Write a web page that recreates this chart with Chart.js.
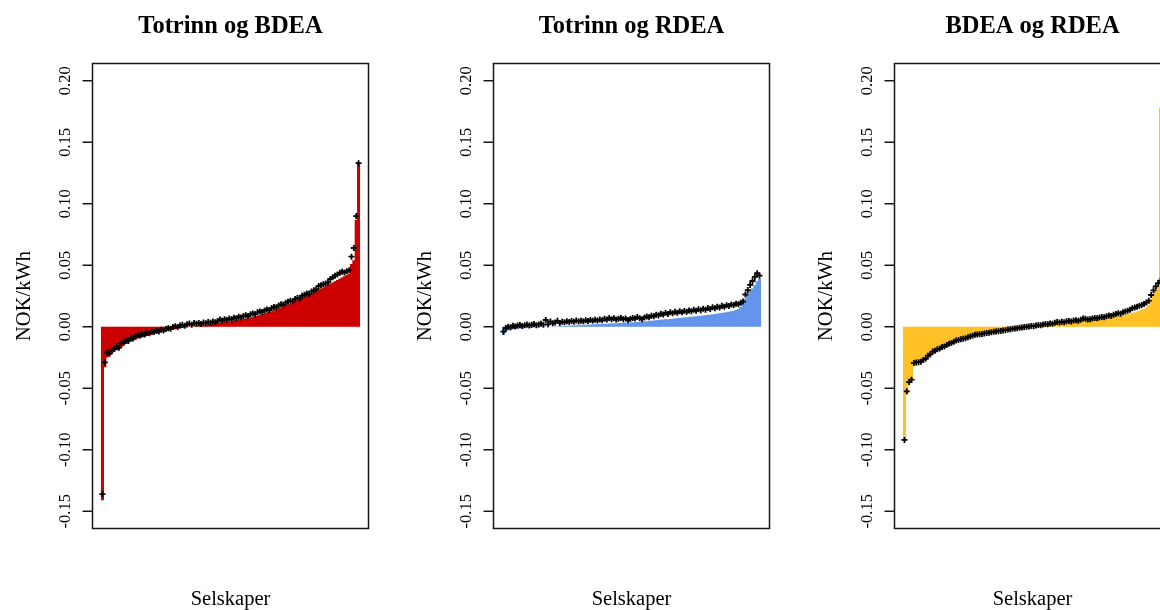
<!DOCTYPE html>
<html>
<head>
<meta charset="utf-8">
<script src="https://cdn.jsdelivr.net/npm/chart.js@4/dist/chart.umd.min.js"></script>
<style>
  html, body { margin: 0; padding: 0; background: #fff; overflow: hidden; width: 1160px; height: 610px; }
  canvas { position: absolute; top: 0; }
</style>
</head>
<body>
<canvas id="p1" width="400" height="610" style="left:0px"></canvas>
<canvas id="p2" width="400" height="610" style="left:401px"></canvas>
<canvas id="p3" width="400" height="610" style="left:802px"></canvas>
<script>
// Panel titles and axis texts
const panelTitles = ['Totrinn og BDEA', 'Totrinn og RDEA', 'BDEA og RDEA'];
const yAxisTitle = 'NOK/kWh';
const xAxisTitle = 'Selskaper';
const yTickValues = [-0.15, -0.10, -0.05, 0.00, 0.05, 0.10, 0.15, 0.20];
const yTickLabels = ['-0.15', '-0.10', '-0.05', '0.00', '0.05', '0.10', '0.15', '0.20'];
const panelColors = ['#CD0000', '#6495ED', '#FFC125'];

// Totrinn og BDEA: sorted differences per company (bars) and observed points
const totBdeaBars = [
  -0.141, -0.033, -0.025, -0.023, -0.0215, -0.020, -0.019, -0.018, -0.0165, -0.015,
  -0.014, -0.013, -0.012, -0.011, -0.0105, -0.0095, -0.009, -0.0085, -0.008, -0.0075,
  -0.007, -0.0063, -0.0057, -0.0051, -0.0046, -0.0042, -0.0038, -0.0034, -0.003, -0.0026,
  -0.0022, -0.0019, -0.0016, -0.0013, -0.001, -0.0007, -0.0004, -0.0001, 0.0002, 0.0005,
  0.0008, 0.001, 0.0012, 0.0014, 0.0016, 0.0018, 0.0021, 0.0024, 0.0027, 0.003,
  0.0033, 0.0036, 0.0039, 0.0041, 0.0043, 0.0046, 0.0049, 0.0052, 0.0056, 0.006,
  0.0064, 0.0068, 0.0072, 0.0076, 0.008, 0.0085, 0.009, 0.0095, 0.0101, 0.0107,
  0.0113, 0.012, 0.0127, 0.0134, 0.0141, 0.0148, 0.0156, 0.0164, 0.0172, 0.018,
  0.0188, 0.0197, 0.0206, 0.0215, 0.0224, 0.0233, 0.0242, 0.0251, 0.026, 0.027,
  0.028, 0.029, 0.030, 0.031, 0.032, 0.033, 0.034, 0.035, 0.036, 0.037,
  0.038, 0.039, 0.040, 0.041, 0.042, 0.043, 0.051, 0.054, 0.087, 0.132
];
const totBdeaPoints = [
  -0.136, -0.029, -0.021, -0.022, -0.019, -0.018, -0.016, -0.017, -0.0135, -0.013,
  -0.011, -0.0115, -0.009, -0.0095, -0.008, -0.0068, -0.0072, -0.006, -0.0062, -0.0048,
  -0.0052, -0.004, -0.0043, -0.0035, -0.0038, -0.0025, -0.003, -0.0018, -0.0012, -0.0016,
  -0.0002, 0.0004, -0.0003, 0.001, 0.0016, 0.0008, 0.002, 0.0026, 0.0017, 0.003,
  0.0025, 0.0031, 0.0022, 0.0034, 0.0029, 0.0038, 0.0033, 0.0042, 0.0036, 0.0046,
  0.0058, 0.005, 0.0062, 0.0055, 0.0068, 0.0061, 0.0074, 0.0069, 0.0082, 0.0076,
  0.0088, 0.0094, 0.0087, 0.0101, 0.0108, 0.0102, 0.0117, 0.0124, 0.0119, 0.0133,
  0.0141, 0.0136, 0.0152, 0.0161, 0.0157, 0.0173, 0.0182, 0.0178, 0.0196, 0.0204,
  0.0212, 0.0207, 0.0226, 0.0235, 0.0231, 0.0252, 0.026, 0.0271, 0.0266, 0.0287,
  0.0296, 0.0304, 0.0331, 0.0338, 0.0345, 0.0352, 0.0361, 0.0388, 0.0402, 0.0415,
  0.0424, 0.0438, 0.0447, 0.0441, 0.0452, 0.046, 0.057, 0.064, 0.090, 0.133
];

// Totrinn og RDEA
const totRdeaBars = [
  -0.0065, -0.004, -0.003, -0.0025, -0.002, -0.0018, -0.0016, -0.0014, -0.0012, -0.001,
  -0.0009, -0.0008, -0.0007, -0.0006, -0.0005, -0.0004, -0.0003, -0.0002, -0.0001, 0.0,
  0.0001, 0.0002, 0.0003, 0.0004, 0.0005, 0.0006, 0.0007, 0.0008, 0.0009, 0.001,
  0.0011, 0.0012, 0.0013, 0.0014, 0.0015, 0.0016, 0.0017, 0.0018, 0.0019, 0.002,
  0.0021, 0.0022, 0.0023, 0.0024, 0.0025, 0.0026, 0.0027, 0.0028, 0.0029, 0.003,
  0.0031, 0.0032, 0.0033, 0.0034, 0.0035, 0.0036, 0.0037, 0.0038, 0.0039, 0.004,
  0.0042, 0.0044, 0.0046, 0.0048, 0.005, 0.0052, 0.0054, 0.0056, 0.0058, 0.006,
  0.0062, 0.0064, 0.0066, 0.0068, 0.007, 0.0072, 0.0074, 0.0076, 0.0078, 0.008,
  0.0082, 0.0084, 0.0086, 0.0088, 0.009, 0.0092, 0.0094, 0.0096, 0.0098, 0.01,
  0.0103, 0.0106, 0.0109, 0.0112, 0.0115, 0.0118, 0.0122, 0.0126, 0.013, 0.0137,
  0.0145, 0.016, 0.019, 0.023, 0.026, 0.029, 0.031, 0.034, 0.037, 0.039
];
const totRdeaPoints = [
  -0.004, -0.001, 0.0, -0.0005, 0.0008, 0.0002, 0.001, 0.0015, 0.0006, 0.0012,
  0.0018, 0.001, 0.0016, 0.0022, 0.0013, 0.0019, 0.0025, 0.0017, 0.0055, 0.002,
  0.0042, 0.0028, 0.0035, 0.0048, 0.003, 0.004, 0.0036, 0.0045, 0.0039, 0.0047,
  0.0041, 0.005, 0.0043, 0.0049, 0.0044, 0.0052, 0.0046, 0.0055, 0.0048, 0.0056,
  0.005, 0.0058, 0.0052, 0.0066, 0.0058, 0.0072, 0.0061, 0.0069, 0.0058, 0.0065,
  0.0071, 0.0062, 0.0068, 0.0055, 0.0063, 0.0072, 0.0067, 0.0079, 0.007, 0.0062,
  0.0075, 0.0083, 0.0077, 0.009, 0.0085, 0.0098, 0.0092, 0.0106, 0.0099, 0.0112,
  0.0104, 0.0118, 0.0109, 0.0121, 0.0114, 0.0126, 0.0118, 0.0129, 0.0122, 0.0133,
  0.0127, 0.0138, 0.013, 0.0142, 0.0135, 0.0146, 0.0139, 0.0152, 0.0145, 0.0158,
  0.015, 0.0163, 0.0156, 0.017, 0.0162, 0.0175, 0.0168, 0.0181, 0.0176, 0.0188,
  0.0183, 0.0196, 0.0205, 0.0262, 0.0298, 0.034, 0.0372, 0.0405, 0.0435, 0.0415
];

// BDEA og RDEA
const bdeaRdeaBars = [
  -0.0925, -0.055, -0.046, -0.043, -0.0295, -0.029, -0.0285, -0.028, -0.027, -0.0255,
  -0.024, -0.0225, -0.021, -0.0198, -0.0187, -0.0177, -0.0168, -0.0159, -0.015, -0.0142,
  -0.0134, -0.0126, -0.0119, -0.0112, -0.0106, -0.01, -0.0094, -0.0088, -0.0083, -0.0078,
  -0.0073, -0.0069, -0.0065, -0.0061, -0.0057, -0.0054, -0.0051, -0.0048, -0.0045, -0.0042,
  -0.0039, -0.0036, -0.0033, -0.003, -0.0027, -0.0024, -0.0021, -0.0018, -0.0015, -0.0012,
  -0.0009, -0.0006, -0.0003, 0.0, 0.0002, 0.0004, 0.0006, 0.0008, 0.001, 0.0012,
  0.0014, 0.0016, 0.0018, 0.002, 0.0022, 0.0024, 0.0026, 0.0028, 0.003, 0.0032,
  0.0034, 0.0036, 0.0038, 0.004, 0.0042, 0.0044, 0.0046, 0.0048, 0.005, 0.0052,
  0.0054, 0.0056, 0.0058, 0.006, 0.0063, 0.0066, 0.0069, 0.0072, 0.0075, 0.0078,
  0.0081, 0.0085, 0.0089, 0.0093, 0.0097, 0.0101, 0.0106, 0.0111, 0.0117, 0.0123,
  0.013, 0.0138, 0.0147, 0.0158, 0.0175, 0.0215, 0.0255, 0.029, 0.032, 0.178
];
const bdeaRdeaPoints = [
  -0.092, -0.0525, -0.045, -0.043, -0.0295, -0.029, -0.0288, -0.0284, -0.027, -0.026,
  -0.0235, -0.0225, -0.0202, -0.0195, -0.0183, -0.0177, -0.0165, -0.016, -0.0148, -0.0138,
  -0.0132, -0.0121, -0.0112, -0.0108, -0.0101, -0.0097, -0.0094, -0.0085, -0.0079, -0.0074,
  -0.0066, -0.0063, -0.006, -0.0058, -0.0054, -0.005, -0.0049, -0.0044, -0.0041, -0.0038,
  -0.0036, -0.0034, -0.003, -0.0028, -0.0023, -0.0021, -0.0017, -0.0014, -0.0012, -0.0008,
  -0.0006, -0.0002, 0.0, 0.0003, 0.0006, 0.0005, 0.001, 0.0014, 0.0012, 0.0018,
  0.0022, 0.002, 0.0027, 0.0025, 0.0032, 0.0038, 0.0035, 0.004, 0.0037, 0.0044,
  0.0047, 0.0043, 0.005, 0.0053, 0.0049, 0.0056, 0.0068, 0.0065, 0.0059, 0.0061,
  0.0067, 0.0072, 0.0069, 0.0075, 0.008, 0.0077, 0.0085, 0.0092, 0.0088, 0.0097,
  0.0103, 0.011, 0.0106, 0.0118, 0.0125, 0.0131, 0.0138, 0.015, 0.0156, 0.0163,
  0.0171, 0.0177, 0.0185, 0.0198, 0.0212, 0.0258, 0.0296, 0.0328, 0.0355, 0.0375
];

const SERIF = '"Liberation Serif", "Times New Roman", serif';

// Draws the frame, rotated y tick labels, tick marks, titles and axis labels
const framePlugin = {
  id: 'frame',
  afterDraw(chart, args, opts) {
    const { ctx, chartArea: a, scales: { y } } = chart;
    ctx.save();
    ctx.strokeStyle = '#151515';
    ctx.lineWidth = 1.5;
    ctx.strokeRect(a.left, a.top, a.right - a.left, a.bottom - a.top);

    ctx.fillStyle = '#000';
    ctx.font = '16.5px ' + SERIF;
    ctx.textAlign = 'center';
    ctx.textBaseline = 'alphabetic';
    yTickValues.forEach((v, i) => {
      const py = y.getPixelForValue(v);
      ctx.beginPath();
      ctx.moveTo(a.left - 10, py);
      ctx.lineTo(a.left, py);
      ctx.stroke();
      ctx.save();
      ctx.translate(a.left - 22.5, py);
      ctx.rotate(-Math.PI / 2);
      ctx.fillText(yTickLabels[i], 0, 0);
      ctx.restore();
    });

    const cx = (a.left + a.right) / 2;
    ctx.font = '20.5px ' + SERIF;
    ctx.save();
    ctx.translate(a.left - 62.5, (a.top + a.bottom) / 2);
    ctx.rotate(-Math.PI / 2);
    ctx.fillText(yAxisTitle, 0, 0);
    ctx.restore();
    ctx.fillText(xAxisTitle, cx, 605);

    ctx.font = 'bold 24.5px ' + SERIF;
    ctx.fillText(opts.title, cx, 32.5);
    ctx.restore();
  }
};

function drawPanel(canvasId, title, bars, points, color) {
  const n = bars.length;
  const pad = 0.034 * n; // axis extension beyond the outer bars
  new Chart(document.getElementById(canvasId), {
    type: 'bar',
    data: {
      datasets: [
        {
          type: 'line',
          data: points.map((v, i) => ({ x: i + 1, y: v })),
          showLine: false,
          pointStyle: 'cross',
          pointRadius: 3,
          pointBorderWidth: 1.8,
          borderColor: '#000',
          backgroundColor: '#000',
          order: 0
        },
        {
          type: 'bar',
          data: bars.map((v, i) => ({ x: i + 1, y: v })),
          backgroundColor: color,
          borderWidth: 0,
          inflateAmount: 0,
          barPercentage: 1.3,
          categoryPercentage: 1,
          order: 1
        }
      ]
    },
    options: {
      responsive: false,
      animation: false,
      devicePixelRatio: 1,
      events: [],
      layout: { padding: { left: 92.5, right: 31.5, top: 63.5, bottom: 81.5 } },
      plugins: { legend: { display: false }, tooltip: { enabled: false }, frame: { title } },
      scales: {
        x: { type: 'linear', display: false, offset: false, min: 0.5 - pad, max: n + 0.5 + pad },
        y: { type: 'linear', display: false, min: -0.164, max: 0.214 }
      }
    },
    plugins: [framePlugin]
  });
}

drawPanel('p1', panelTitles[0], totBdeaBars, totBdeaPoints, panelColors[0]);
drawPanel('p2', panelTitles[1], totRdeaBars, totRdeaPoints, panelColors[1]);
drawPanel('p3', panelTitles[2], bdeaRdeaBars, bdeaRdeaPoints, panelColors[2]);
</script>
</body>
</html>
